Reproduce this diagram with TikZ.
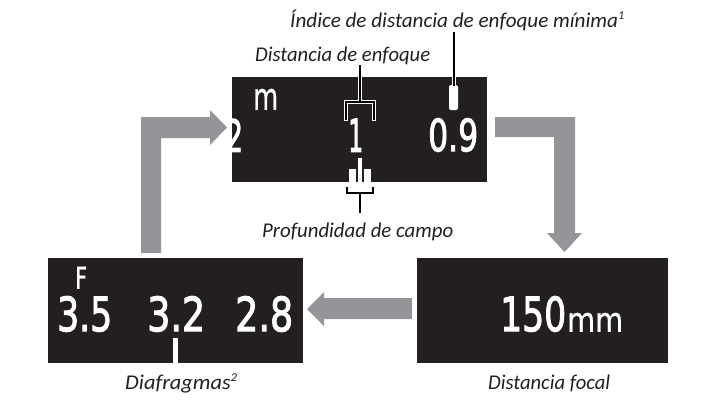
\documentclass[tikz,border=0pt]{standalone}
\usepackage{fontspec}
\usepackage{graphicx}
\newfontfamily\lblfont{Carlito}
\newfontfamily\lcdfont{DejaVu Sans}[FakeBold=2.4]
\newfontfamily\unitfont{DejaVu Sans}[FakeBold=0.8]
\newcommand\lcd[3]{\resizebox{#1pt}{#2pt}{\lcdfont #3}}
\newcommand\unit[3]{\resizebox{#1pt}{#2pt}{\unitfont #3}}
\newcommand\lbl[2]{\resizebox{#1pt}{\height}{\lblfont\itshape\fontsize{21}{24}\selectfont #2}}
\newcommand\sups[1]{\raisebox{0.7ex}{\fontsize{12}{12}\selectfont #1}}
\definecolor{boxblack}{HTML}{231F20}
\definecolor{arrowgray}{HTML}{939598}
\definecolor{lbltext}{HTML}{231F20}
\tikzset{
  screen/.style={fill=boxblack, draw=none, inner sep=0pt, anchor=north west, minimum width=255pt, minimum height=105pt},
  digit/.style={inner sep=0pt, anchor=south west, text=white},
  label/.style={inner sep=0pt, anchor=base west, text=lbltext},
  leader/.style={draw=black, line width=1.1pt},
  inleader/.style={draw=white, line width=3.4pt},
  bigarrow/.style={fill=arrowgray, draw=none},
  whitebar/.style={fill=white, draw=none}
}
\begin{document}
\begin{tikzpicture}[x=1pt,y=-1pt]
\useasboundingbox (0,0) rectangle (720,405);
% screens
\node[screen] (top) at (232,77) {};
\node[screen] (aper) at (48,258) {};
\node[screen, minimum width=251pt] (focal) at (417,258) {};
% arrows
\fill[bigarrow] (141,253) -- (141,117) -- (210,117) -- (210,110) -- (227,127.5) -- (210,145) -- (210,138) -- (161,138) -- (161,253) -- cycle;
\fill[bigarrow] (495,117) -- (575,117) -- (575,233) -- (582,233) -- (564.5,252) -- (547,233) -- (554,233) -- (554,137) -- (495,137) -- cycle;
\fill[bigarrow] (412,298) -- (324,298) -- (324,292) -- (307,309) -- (324,326) -- (324,319) -- (412,319) -- cycle;
% top screen content
\begin{scope}
\clip (232,77) rectangle (487,182);
\node[digit] (two) at (225,152) {\lcd{18}{33}{2}};
\end{scope}
\node[digit] (munit) at (253,110) {\unit{25}{21}{m}};
\node[digit] (one) at (348,152) {\lcd{15}{33}{1}};
\node[digit] (zeronine) at (428,152) {\lcd{50}{33}{0.9}};
\fill[whitebar, rounded corners=2pt] (449,85) rectangle (458,110);
\fill[whitebar] (358,158) rectangle (362,182);
\fill[whitebar] (349,169) rectangle (356,182);
\fill[whitebar] (364,169) rectangle (371,182);
% labels
\node[label] (lidx) at (290,27) {\lbl{334}{Índice de distancia de enfoque mínima\sups{1}}};
\node[label] (ldist) at (255,61) {\lbl{175}{Distancia de enfoque}};
\node[label] (ldof) at (262,237) {\lbl{191}{Profundidad de campo}};
\node[label] (lap) at (125,389) {\lbl{112}{Diafragmas\sups{2}}};
\node[label] (lfoc) at (488,389) {\lbl{122}{Distancia focal}};
% leaders
\coordinate (idxend) at (454,86);
\coordinate (idxtop) at (454,32);
\coordinate (distop) at (360,65);
\coordinate (bracktop) at (360,102);
\draw[leader] (idxtop) -- (454,77);
\draw[inleader] (454,77) -- (idxend);
\draw[leader] (454,76) -- (idxend);
\draw[leader] (distop) -- (360,77);
\draw[inleader, line join=miter] (360,77) -- (bracktop) (346,121) -- (346,102) -- (374,102) -- (374,121);
\draw[leader, line join=miter] (360,76) -- (bracktop) (346,120) -- (346,102) -- (374,102) -- (374,120);
\coordinate (dofstem) at (360,213);
\draw[leader] (347,187) -- (347,193) -- (373,193) -- (373,187);
\draw[leader] (360,193) -- (dofstem);
% aperture screen content
\node[digit] (fl) at (75,289) {\unit{12}{22}{F}};
\node[digit] (a35) at (57,332) {\lcd{55}{35}{3.5}};
\node[digit] (a32) at (147,332) {\lcd{58}{35}{3.2}};
\node[digit] (a28) at (235,332) {\lcd{58}{35}{2.8}};
\fill[whitebar] (173,338) rectangle (178,363);
% focal screen content
\node[digit] (f150) at (500,332) {\lcd{66}{35}{150}};
\node[digit] (fmm) at (567,332) {\unit{56}{19}{mm}};
\end{tikzpicture}
\end{document}
